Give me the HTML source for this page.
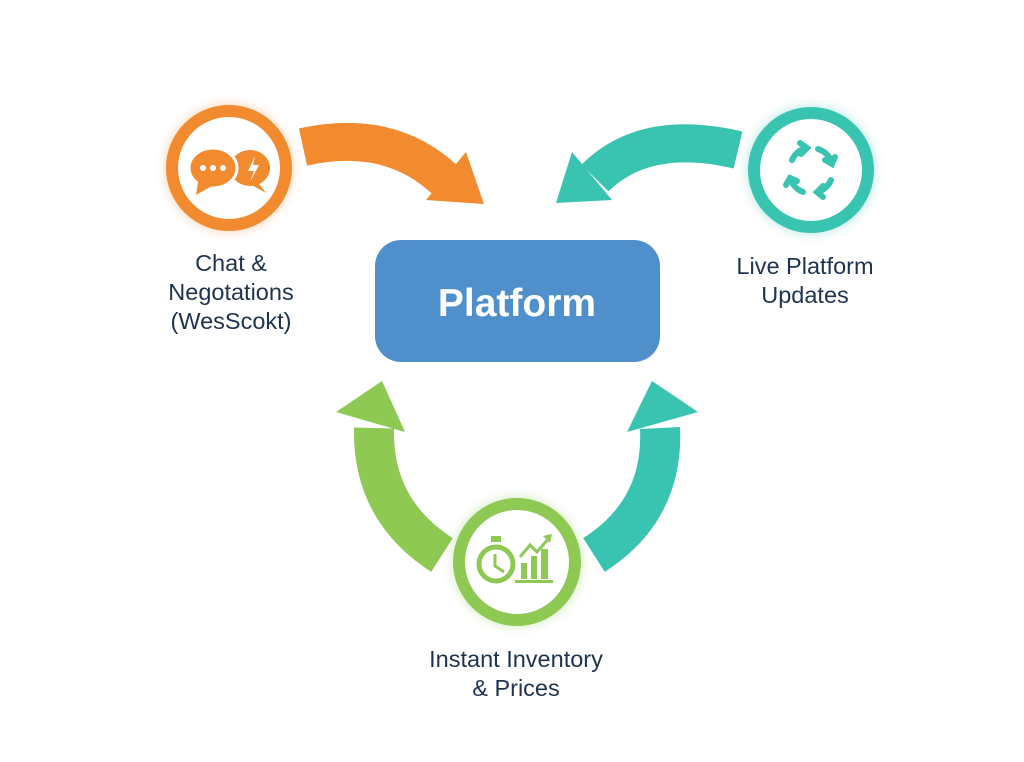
<!DOCTYPE html>
<html><head><style>
html,body{margin:0;padding:0;background:#fff;}
svg{display:block}
text{font-family:"Liberation Sans",Arial,sans-serif;}
</style></head><body>
<svg width="1024" height="762" viewBox="0 0 1024 762" xmlns="http://www.w3.org/2000/svg">
<defs>
<filter id="g" x="-30%" y="-30%" width="160%" height="160%"><feGaussianBlur stdDeviation="5"/></filter>
</defs>
<rect width="1024" height="762" fill="#fff"/>

<path d="M303,147 Q390,128 445,180" fill="none" stroke="#f28a30" stroke-width="38"/>
<polygon points="466,152 484,204 426,200" fill="#f28a30"/>
<path d="M738,150 Q645,128 595,178" fill="none" stroke="#38c4b0" stroke-width="38"/>
<polygon points="572,152 556,203 612,200" fill="#38c4b0"/>
<path d="M442,555 Q372,510 374,428" fill="none" stroke="#8dc953" stroke-width="40"/>
<polygon points="336,412 382,381 405,432" fill="#8dc953"/>
<path d="M594,555 Q664,510 660,428" fill="none" stroke="#38c4b0" stroke-width="40"/>
<polygon points="698,412 652,381 627,432" fill="#38c4b0"/>

<rect x="375" y="240" width="285" height="122" rx="26" fill="#4f8fcc"/>
<text x="517" y="316" text-anchor="middle" font-size="39" font-weight="bold" fill="#fff">Platform</text>

<circle cx="229" cy="168" r="64" fill="#f28a30" opacity="0.35" filter="url(#g)"/>
<circle cx="229" cy="168" r="57" fill="#fff" stroke="#f28a30" stroke-width="12"/>
<ellipse cx="250" cy="168" rx="20" ry="18" fill="#f28a30"/>
<polygon points="256,180 266,193 250,184" fill="#f28a30"/>
<ellipse cx="213" cy="168" rx="24" ry="20" fill="#f28a30" stroke="#fff" stroke-width="3"/>
<polygon points="198,182 196,195 212,186" fill="#f28a30"/>
<circle cx="203" cy="168" r="3" fill="#fff"/><circle cx="213" cy="168" r="3" fill="#fff"/><circle cx="223" cy="168" r="3" fill="#fff"/>
<polygon points="255,156 248,171 254,171 250,182 259,165 253,165" fill="#fff"/>

<circle cx="811" cy="170" r="64" fill="#38c4b0" opacity="0.35" filter="url(#g)"/>
<circle cx="811" cy="170" r="57" fill="#fff" stroke="#38c4b0" stroke-width="12"/>
<g fill="none" stroke="#38c4b0" stroke-width="6" stroke-linecap="round">
<path d="M792,160 A22,22 0 0 1 806,148"/>
<path d="M818,149 A22,22 0 0 1 832,163"/>
<path d="M831,180 A22,22 0 0 1 818,192"/>
<path d="M803,192 A22,22 0 0 1 790,178"/>
<polyline points="800,143 807,148 801,154"/>
<polyline points="835,157 832,164 825,160"/>
<polyline points="823,197 817,192 823,186"/>
<polyline points="786,185 790,178 797,181"/>
</g>

<circle cx="517" cy="562" r="65" fill="#8dc953" opacity="0.35" filter="url(#g)"/>
<circle cx="517" cy="562" r="58" fill="#fff" stroke="#8dc953" stroke-width="12"/>
<g fill="none" stroke="#8dc953" stroke-width="5">
<circle cx="496" cy="564" r="17"/>
<polyline points="495,554 495,566 504,572" stroke-width="3"/>
</g>
<rect x="491" y="536" width="10" height="6" fill="#8dc953"/>
<rect x="521" y="563" width="6" height="16" fill="#8dc953"/>
<rect x="531" y="556" width="6" height="23" fill="#8dc953"/>
<rect x="541" y="549" width="7" height="30" fill="#8dc953"/>
<rect x="515" y="580" width="38" height="3" fill="#8dc953"/>
<polyline points="520,557 530,545 537,552 549,538" fill="none" stroke="#8dc953" stroke-width="3"/>
<polygon points="543,536 552,534 550,543" fill="#8dc953"/>

<g font-size="23.5" fill="#1e3350" text-anchor="middle">
<text x="231" y="271">Chat &amp;</text>
<text x="231" y="300">Negotations</text>
<text x="231" y="329">(WesScokt)</text>
<text x="805" y="274">Live Platform</text>
<text x="805" y="303">Updates</text>
<text x="516" y="667">Instant Inventory</text>
<text x="516" y="696">&amp; Prices</text>
</g>
</svg>
</body></html>
